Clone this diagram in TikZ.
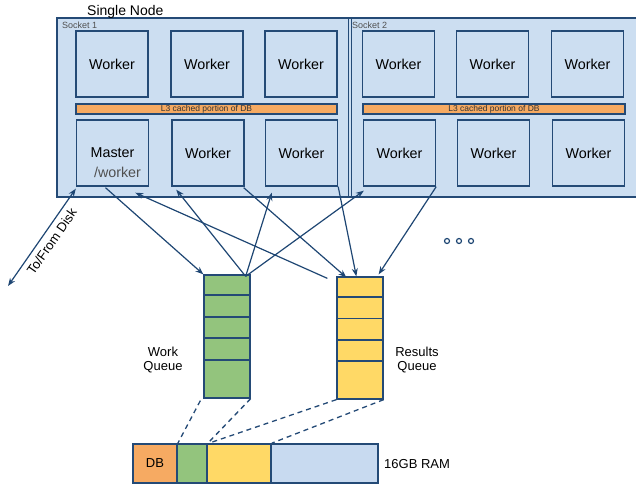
\documentclass[tikz,border=0pt]{standalone}
\usepackage{fontspec}
\setmainfont{Liberation Sans}
\usetikzlibrary{arrows.meta,calc}
\definecolor{boxfill}{RGB}{204,222,241}
\definecolor{boxline}{RGB}{36,74,118}
\definecolor{arrowc}{RGB}{30,70,115}
\definecolor{orangec}{RGB}{246,170,98}
\definecolor{greenc}{RGB}{147,196,125}
\definecolor{yellowc}{RGB}{255,217,102}
\definecolor{ramblue}{RGB}{200,218,240}
\definecolor{graytext}{RGB}{80,80,80}
\begin{document}
\begin{tikzpicture}[x=1bp,y=-1bp,
  cpu/.style={draw=boxline,fill=boxfill,line width=1.4bp,minimum width=72bp,minimum height=66bp,inner sep=0pt,font=\fontsize{14.3bp}{16bp}\selectfont},
  lthree/.style={draw=boxline,fill=orangec,line width=1.2bp,minimum height=10bp,inner sep=0pt,font=\fontsize{8.5bp}{9bp}\selectfont,text=black!80},
  queuebox/.style={draw=boxline,line width=1.3bp,minimum width=46bp,inner sep=0pt},
  ramcell/.style={draw=boxline,line width=1.8bp,minimum height=39bp,inner sep=0pt,font=\fontsize{13bp}{15bp}\selectfont},
  conn/.style={draw=arrowc,line width=1.2bp,-{Stealth[length=8bp,width=6bp]}},
  dconn/.style={draw=arrowc,line width=1.2bp,{Stealth[length=8bp,width=6bp]}-{Stealth[length=8bp,width=6bp]}},
  dashc/.style={draw=boxline,line width=1.3bp,dash pattern=on 5bp off 4bp},
  lbl/.style={font=\fontsize{13bp}{14bp}\selectfont,inner sep=0pt,align=center},
  small/.style={font=\fontsize{9bp}{10bp}\selectfont,text=graytext,inner sep=0pt,anchor=west}
]
\useasboundingbox (0,0) rectangle (636,485);

% outer node box
\node[draw=boxline,fill=boxfill,line width=1.4bp,minimum width=582bp,minimum height=179bp,inner sep=0pt] (outer) at (348,107.5) {};
\draw[boxline,line width=1bp] (348.5,18) -- (348.5,197);
\draw[boxline,line width=1bp] (351.2,18) -- (351.2,197);
\node[font=\fontsize{14bp}{16bp}\selectfont,anchor=west,inner sep=0pt] (title) at (87,12) {Single Node};
\node[small] (s1) at (62,25) {Socket 1};
\node[small] (s2) at (352,25) {Socket 2};

% top row
\node[cpu] (a1) at (112,64) {Worker};
\node[cpu] (a2) at (207,64) {Worker};
\node[cpu] (a3) at (301,64) {Worker};
\node[cpu] (a4) at (398.5,64) {Worker};
\node[cpu] (a5) at (492.5,64) {Worker};
\node[cpu] (a6) at (587.5,64) {Worker};

% L3 bars
\node[lthree,minimum width=261bp] (l3a) at (206.5,109) {L3 cached portion of DB};
\node[lthree,minimum width=262bp] (l3b) at (494,109) {L3 cached portion of DB};

% bottom row
\node[cpu] (m) at (112.5,153) {};
\node[font=\fontsize{14.3bp}{16bp}\selectfont,inner sep=0pt] (mtxt) at (112.5,153) {Master};
\node[font=\fontsize{14.3bp}{16bp}\selectfont,inner sep=0pt,text=graytext] (wtxt) at (117.5,172) {/worker};
\node[cpu] (w2) at (208,153) {Worker};
\node[cpu] (w3) at (301.5,153) {Worker};
\node[cpu] (b4) at (399.5,153) {Worker};
\node[cpu] (b5) at (493.5,153) {Worker};
\node[cpu] (b6) at (588.5,153) {Worker};

% queues
\node[queuebox,fill=greenc,minimum height=123bp] (wq) at (227,336.5) {};
\foreach \yy in {295,317,338,360} \draw[boxline,line width=1.3bp] (204,\yy) -- (250,\yy);
\node[queuebox,fill=yellowc,minimum height=122bp] (rq) at (360,338) {};
\foreach \yy in {297,318.5,340,361} \draw[boxline,line width=1.3bp] (337,\yy) -- (383,\yy);
\node[lbl] (wql) at (163,360) {Work\\Queue};
\node[lbl] (rql) at (417,360) {Results\\Queue};

% ellipsis
\foreach \xx/\nn in {447/d1,459/d2,471/d3}
  \node[circle,draw=arrowc,line width=1.2bp,fill=white,minimum size=5bp,inner sep=0pt] (\nn) at (\xx,241) {};

% RAM
\node[ramcell,fill=orangec,minimum width=44bp] (db) at (155,463.5) {DB};
\node[ramcell,fill=greenc,minimum width=30bp] (gr) at (192,463.5) {};
\node[ramcell,fill=yellowc,minimum width=64bp] (ye) at (239,463.5) {};
\node[ramcell,fill=ramblue,minimum width=107bp] (bl) at (324.5,463.5) {};
\node[lbl,anchor=west] (ramlbl) at (384,464) {16GB RAM};

% connectors
\coordinate (disk) at (8,286);
\draw[dconn] (disk) -- ($(m.south west)+(0,2)$) node[pos=0.52,sloped,below=5bp,lbl] {To/From Disk};
\draw[conn] ($(m.south)+(-7,1)$) -- (wq.north west);
\draw[conn] ($(rq.north west)+(-9,2)$) -- ($(m.south east)+(-14,6)$);
\draw[conn] ($(wq.north east)+(-5,2)$) -- ($(w2.south west)+(5,3)$);
\draw[conn] ($(wq.north east)+(-5,2)$) -- ($(w3.south west)+(7,6)$);
\draw[conn] ($(wq.north east)+(-5,2)$) -- ($(b4.south west)+(1,4)$);
\draw[conn] ($(w2.south east)+(-1,1)$) -- ($(rq.north west)+(10,1)$);
\draw[conn] (w3.south east) -- ($(rq.north west)+(20,0)$);
\draw[conn] (b4.south east) -- ($(rq.north east)+(-5,-2)$);

% dashed mapping
\draw[dashc] ($(wq.south west)+(-3,2)$) -- (db.north east);
\draw[dashc] (wq.south east) -- (gr.north east);
\draw[dashc] (rq.south west) -- ($(ye.north west)+(3,0)$);
\draw[dashc] (rq.south east) -- (ye.north east);
\end{tikzpicture}
\end{document}
